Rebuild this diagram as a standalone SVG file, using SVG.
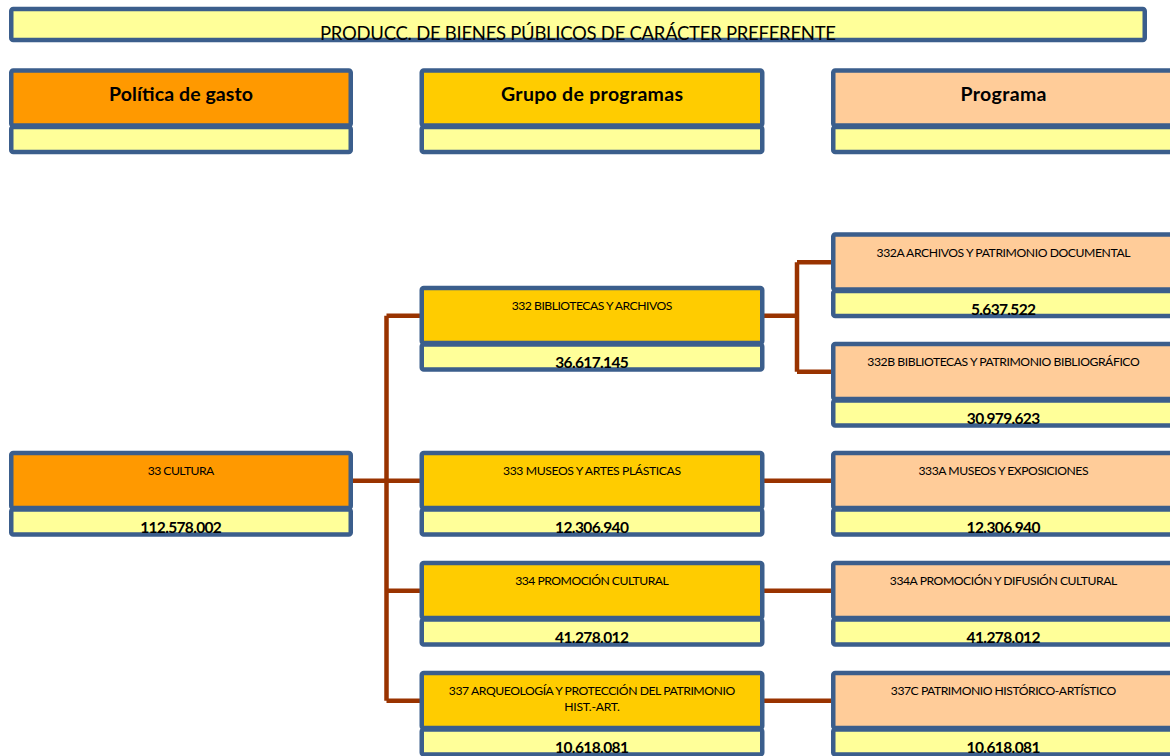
<svg xmlns="http://www.w3.org/2000/svg" width="1170" height="756" viewBox="0 0 1170 756">
<style>
.b{stroke:#3b5e8c;stroke-width:4.5;stroke-linejoin:round}
.o{fill:#ff9900}.g{fill:#ffcc00}.p{fill:#ffcc99}.y{fill:#ffff99}
.t{font-family:Lato,"Liberation Sans",sans-serif;fill:#000;text-anchor:middle}
.lb{font-size:12.2px}
.v{font-size:15.5px;font-weight:bold}
.h{font-size:19.5px;font-weight:bold}
.c{stroke:#993300;stroke-width:4.5;fill:none}
</style>
<rect x="0" y="0" width="1170" height="756" fill="#fff"/>
<g id="title">
<rect class="b y" x="11.25" y="9" width="1133.5" height="31" rx="2"/>
<text class="t" x="578" y="40" font-size="18.5" textLength="516">PRODUCC. DE BIENES PÚBLICOS DE CARÁCTER PREFERENTE</text>
</g>
<g id="hdr-politica">
<rect class="b o" x="11.25" y="70.5" width="339.5" height="55" rx="2"/>
<rect class="b y" x="11.25" y="127" width="339.5" height="25" rx="2"/>
<text class="t h" x="181" y="101" textLength="144">Política de gasto</text>
</g>
<g id="hdr-grupo">
<rect class="b g" x="421.75" y="70.5" width="340.5" height="55" rx="2"/>
<rect class="b y" x="421.75" y="127" width="340.5" height="25" rx="2"/>
<text class="t h" x="592" y="101" textLength="182">Grupo de programas</text>
</g>
<g id="hdr-programa">
<rect class="b p" x="833.25" y="70.5" width="340.5" height="55" rx="2"/>
<rect class="b y" x="833.25" y="127" width="340.5" height="25" rx="2"/>
<text class="t h" x="1003.5" y="101" textLength="86">Programa</text>
</g>
<g id="connectors">
<path class="c" d="M351 480.7H421M386.5 315.7V700.7M386.5 315.7H421M386.5 590.7H421M386.5 700.7H421"/>
<path class="c" d="M763 315.7H797M797 262.3V371.7M797 262.3H832M797 371.7H832"/>
<path class="c" d="M763 480.7H832M763 590.7H832M763 700.7H832"/>
</g>
<g id="n33">
<rect class="b o" x="11.25" y="452.9" width="339.5" height="55" rx="2"/>
<rect class="b y" x="11.25" y="509.4" width="339.5" height="25" rx="2"/>
<text class="t lb" x="181" y="475" textLength="66.7">33 CULTURA</text>
<text class="t v" x="181" y="533.3" textLength="81.7">112.578.002</text>
</g>
<g id="n332">
<rect class="b g" x="421.75" y="287.9" width="340.5" height="55" rx="2"/>
<rect class="b y" x="421.75" y="344.4" width="340.5" height="25" rx="2"/>
<text class="t lb" x="592" y="310.2" textLength="160.6">332 BIBLIOTECAS Y ARCHIVOS</text>
<text class="t v" x="592" y="368.2" textLength="73.7">36.617.145</text>
</g>
<g id="n333">
<rect class="b g" x="421.75" y="452.9" width="340.5" height="55" rx="2"/>
<rect class="b y" x="421.75" y="509.4" width="340.5" height="25" rx="2"/>
<text class="t lb" x="592" y="475" textLength="178">333 MUSEOS Y ARTES PLÁSTICAS</text>
<text class="t v" x="592" y="533.3" textLength="74">12.306.940</text>
</g>
<g id="n334">
<rect class="b g" x="421.75" y="562.9" width="340.5" height="55" rx="2"/>
<rect class="b y" x="421.75" y="619.4" width="340.5" height="25" rx="2"/>
<text class="t lb" x="592" y="585" textLength="153.7">334 PROMOCIÓN CULTURAL</text>
<text class="t v" x="592" y="643.3" textLength="74">41.278.012</text>
</g>
<g id="n337">
<rect class="b g" x="421.75" y="672.9" width="340.5" height="55" rx="2"/>
<rect class="b y" x="421.75" y="729.4" width="340.5" height="25" rx="2"/>
<text class="t lb" x="592" y="695" textLength="286.3">337 ARQUEOLOGÍA Y PROTECCIÓN DEL PATRIMONIO</text>
<text class="t lb" x="592" y="711" textLength="55.7">HIST.-ART.</text>
<text class="t v" x="592" y="753.3" textLength="74">10.618.081</text>
</g>
<g id="n332A">
<rect class="b p" x="833.25" y="234.5" width="340.5" height="55" rx="2"/>
<rect class="b y" x="833.25" y="291" width="340.5" height="25" rx="2"/>
<text class="t lb" x="1003.5" y="256.6" textLength="254">332A ARCHIVOS Y PATRIMONIO DOCUMENTAL</text>
<text class="t v" x="1003.5" y="314.8" textLength="65">5.637.522</text>
</g>
<g id="n332B">
<rect class="b p" x="833.25" y="343.9" width="340.5" height="55" rx="2"/>
<rect class="b y" x="833.25" y="400.4" width="340.5" height="25" rx="2"/>
<text class="t lb" x="1003.5" y="366" textLength="272.3">332B BIBLIOTECAS Y PATRIMONIO BIBLIOGRÁFICO</text>
<text class="t v" x="1003.5" y="424.2" textLength="73.3">30.979.623</text>
</g>
<g id="n333A">
<rect class="b p" x="833.25" y="452.9" width="340.5" height="55" rx="2"/>
<rect class="b y" x="833.25" y="509.4" width="340.5" height="25" rx="2"/>
<text class="t lb" x="1003.5" y="475" textLength="170">333A MUSEOS Y EXPOSICIONES</text>
<text class="t v" x="1003.5" y="533.3" textLength="74">12.306.940</text>
</g>
<g id="n334A">
<rect class="b p" x="833.25" y="562.9" width="340.5" height="55" rx="2"/>
<rect class="b y" x="833.25" y="619.4" width="340.5" height="25" rx="2"/>
<text class="t lb" x="1003.5" y="585" textLength="227.4">334A PROMOCIÓN Y DIFUSIÓN CULTURAL</text>
<text class="t v" x="1003.5" y="643.3" textLength="74">41.278.012</text>
</g>
<g id="n337C">
<rect class="b p" x="833.25" y="672.9" width="340.5" height="55" rx="2"/>
<rect class="b y" x="833.25" y="729.4" width="340.5" height="25" rx="2"/>
<text class="t lb" x="1003.5" y="695" textLength="225.3">337C PATRIMONIO HISTÓRICO-ARTÍSTICO</text>
<text class="t v" x="1003.5" y="753.3" textLength="74">10.618.081</text>
</g>
</svg>
